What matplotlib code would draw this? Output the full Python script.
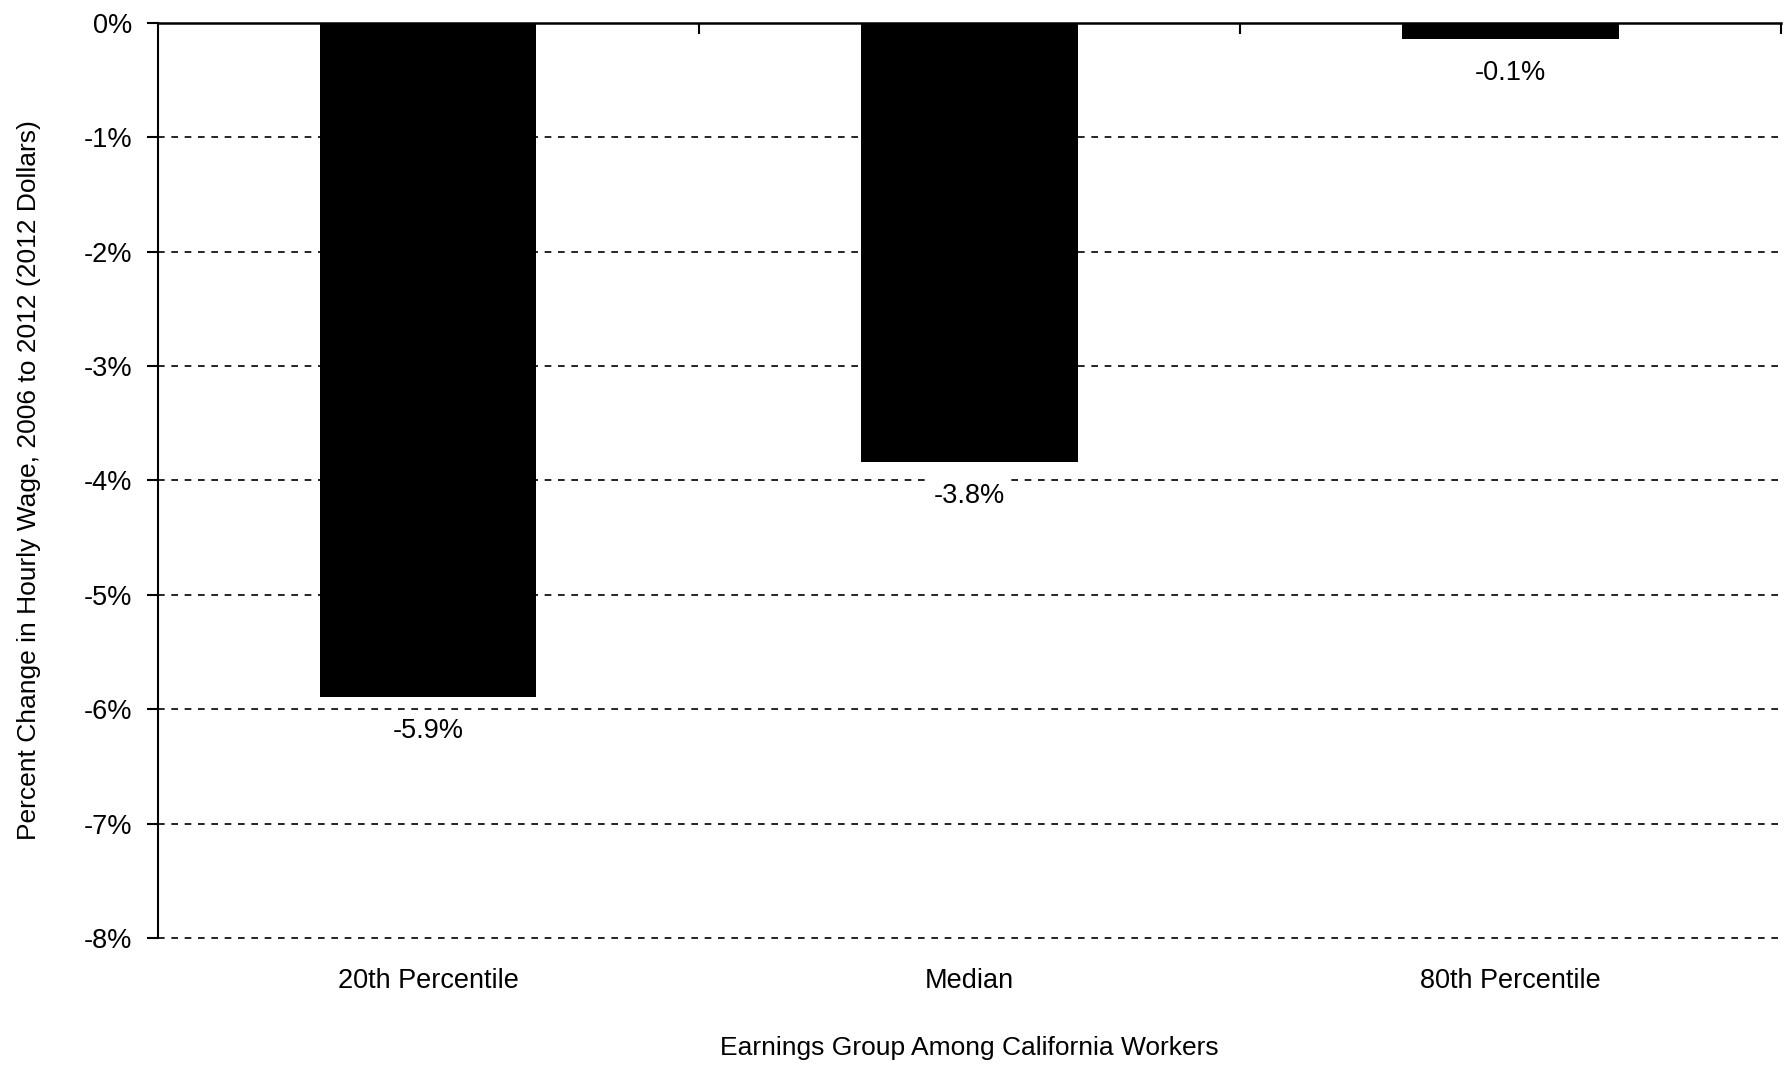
import matplotlib
matplotlib.use('Agg')
import matplotlib.pyplot as plt
from matplotlib import font_manager

# pick a narrow sans if one is installed
names = {f.name for f in font_manager.fontManager.ttflist}
family = 'Liberation Sans Narrow' if 'Liberation Sans Narrow' in names else 'Liberation Sans'
plt.rcParams['font.family'] = [family, 'DejaVu Sans']

groups = ['20th Percentile', 'Median', '80th Percentile']
wage_change = [-5.89, -3.84, -0.14]
y_ticks = [0, -1, -2, -3, -4, -5, -6, -7, -8]

fig = plt.figure(figsize=(17.9, 10.67), dpi=100)
ax = fig.add_axes([0.088, 0.121, 0.907, 0.8576])

x = range(len(groups))
ax.bar(x, wage_change, width=0.4, color='black', zorder=3)

# dashed gridlines below zero
for t in y_ticks[1:]:
    ax.axhline(t, color='black', lw=1.2, ls=(0, (4, 4)), zorder=1, clip_on=False)

# value labels under each bar, boxed in white so they sit over the grid
for i, v in enumerate(wage_change):
    ax.annotate(f'{v:.1f}%', (i, v), xytext=(0, -24.5), textcoords='offset points',
                ha='center', va='center', fontsize=19.5, zorder=4,
                bbox=dict(boxstyle='square,pad=0.15', fc='white', ec='none'))

ax.set_xlim(-0.5, 2.5)
ax.set_ylim(-8, 0)
ax.set_yticks(y_ticks)
ax.set_yticklabels([f'{t}%' for t in y_ticks])
ax.tick_params(axis='y', length=8, width=1.5, labelsize=19.5, direction='out', pad=10)

# category axis sits on the zero line; labels at the bottom
ax.spines['bottom'].set_visible(False)
ax.spines['right'].set_visible(False)
ax.spines['top'].set_linewidth(1.8)
ax.spines['left'].set_linewidth(1.5)
ax.set_xticks(list(x))
ax.set_xticklabels(groups, fontsize=19.5)
ax.tick_params(axis='x', length=0, pad=22)
ax.set_xticks([0.5, 1.5, 2.5], minor=True)
ax.tick_params(axis='x', which='minor', top=True, bottom=False, direction='in',
               length=8, width=1.5)

ax.set_xlabel('Earnings Group Among California Workers', fontsize=19, labelpad=30)
ax.set_ylabel('Percent Change in Hourly Wage, 2006 to 2012 (2012 Dollars)',
              fontsize=19, labelpad=31)

fig.savefig('out.png', dpi=100)
